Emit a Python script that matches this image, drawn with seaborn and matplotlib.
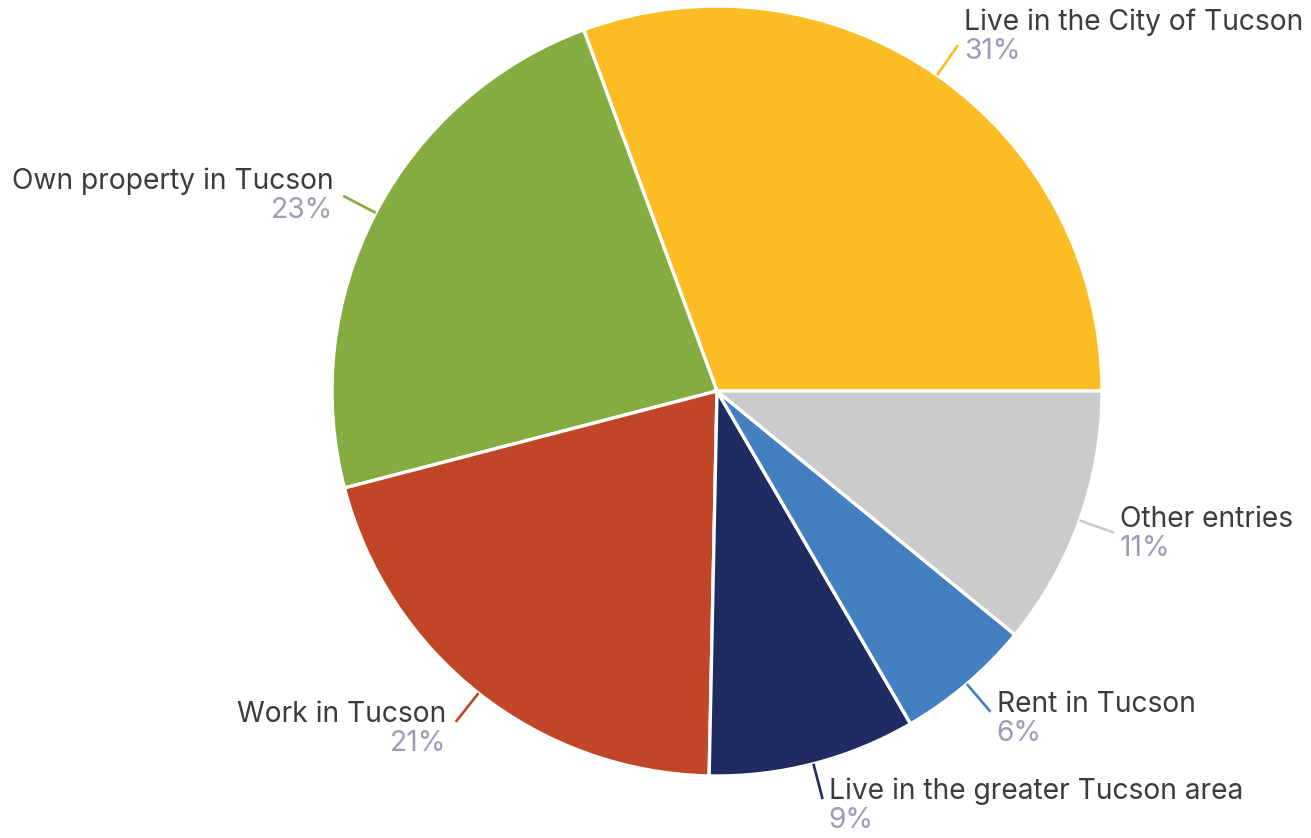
import numpy as np
import matplotlib
matplotlib.use("Agg")
import matplotlib.pyplot as plt
import seaborn as sns

# Survey: connection of respondents to Tucson (share of responses, %)
categories = [
    "Live in the City of Tucson",
    "Own property in Tucson",
    "Work in Tucson",
    "Live in the greater Tucson area",
    "Rent in Tucson",
    "Other entries",
]
shares = [30.6, 23.4, 20.6, 8.7, 5.7, 10.9]
slice_colors = ["#FBBC24", "#84AC41", "#C14527", "#202C61", "#437FC1", "#CACBCD"]

sns.set_theme(style="white")
plt.rcParams["font.family"] = ["Inter", "DejaVu Sans"]

W, H, DPI = 1311, 838, 100
fig = plt.figure(figsize=(W / DPI, H / DPI), dpi=DPI)
ax = fig.add_axes([0, 0, 1, 1])

# pie centre and radius in pixels
cx, cy, R = 717, 391, 385
px = 1.0 / R

palette = sns.color_palette(slice_colors)
wedges, _ = ax.pie(
    shares,
    colors=palette,
    startangle=0,
    counterclock=True,
    radius=1.0,
    center=(0, 0),
    wedgeprops=dict(edgecolor="white", linewidth=2.4),
)
ax.set_xlim(-cx / R, (W - cx) / R)
ax.set_ylim(-(H - cy) / R, cy / R)
ax.set_aspect("equal")
ax.axis("off")

label_color = "#3C3C3C"
pct_color = "#9B9CB5"
fs = 20.3
# vertical nudges (pixels) of the label baseline relative to the leader end
nudges = [15, 7, 0, 0, 0, 6]

for w, name, val, col, dy in zip(wedges, categories, shares, slice_colors, nudges):
    mid = np.deg2rad((w.theta1 + w.theta2) / 2)
    c, s = np.cos(mid), np.sin(mid)
    x0, y0 = 1.0 * c, 1.0 * s
    x1, y1 = 1.095 * c, 1.095 * s
    ax.plot([x0, x1], [y0, y1], color=col, lw=1.9, solid_capstyle="butt")
    right = c >= 0
    tx = x1 + (6 * px if right else -10 * px)
    ha = "left" if right else "right"
    base = y1 + dy * px
    ax.text(tx, base, name, ha=ha, va="baseline", fontsize=fs, color=label_color)
    ax.text(tx, base - 8 * px, f"{round(val):d}%", ha=ha, va="top",
            fontsize=fs, color=pct_color)

fig.savefig("out.png", dpi=DPI, facecolor="white")
